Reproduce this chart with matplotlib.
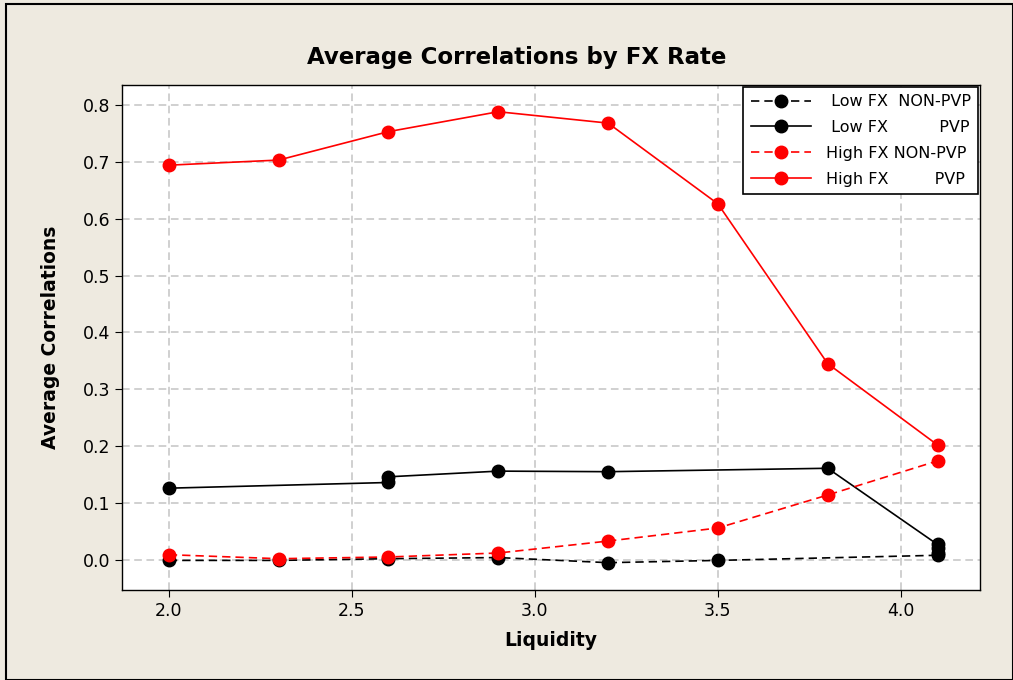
import numpy as np
import matplotlib
matplotlib.use("Agg")
import matplotlib.pyplot as plt
from matplotlib.patches import Rectangle
from matplotlib.ticker import FormatStrFormatter

low_nonpvp_x = [2.0, 2.3, 2.6, 2.9, 3.2, 3.5, 4.1, 4.1]
low_nonpvp_y = [-0.001, -0.001, 0.002, 0.004, -0.005, -0.001, 0.008, 0.012]

low_pvp_x = [2.0, 2.6, 2.6, 2.9, 3.2, 3.8, 4.1, 4.1]
low_pvp_y = [0.126, 0.136, 0.146, 0.156, 0.155, 0.161, 0.027, 0.020]

high_nonpvp_x = [2.0, 2.3, 2.6, 2.9, 3.2, 3.5, 3.8, 4.1]
high_nonpvp_y = [0.009, 0.002, 0.005, 0.012, 0.033, 0.056, 0.114, 0.174]

high_pvp_x = [2.0, 2.3, 2.6, 2.9, 3.2, 3.5, 3.8, 4.1]
high_pvp_y = [0.694, 0.703, 0.753, 0.788, 0.768, 0.626, 0.345, 0.202]

labels = [" Low FX  NON-PVP", " Low FX          PVP",
          "High FX NON-PVP", "High FX         PVP"]

bg = "#EEEAE0"
fig = plt.figure(figsize=(10.13, 6.8), dpi=100, facecolor=bg)
ax = fig.add_axes([0.1204, 0.1324, 0.847, 0.7426])
ax.set_facecolor("white")

fig.patches.append(Rectangle((0.006, 0.0), 0.994, 0.994, transform=fig.transFigure,
                             fill=False, edgecolor="black", linewidth=1.5))

ms = 9
ax.plot(low_nonpvp_x, low_nonpvp_y, color="black", linestyle=(0, (5, 3)), lw=1.2,
        marker="o", ms=ms, label=labels[0], zorder=3)
ax.plot(low_pvp_x, low_pvp_y, color="black", linestyle="-", lw=1.2,
        marker="o", ms=ms, label=labels[1], zorder=3)
ax.plot(high_nonpvp_x, high_nonpvp_y, color="#FF0000", linestyle=(0, (5, 3)), lw=1.2,
        marker="o", ms=ms, label=labels[2], zorder=4)
ax.plot(high_pvp_x, high_pvp_y, color="#FF0000", linestyle="-", lw=1.2,
        marker="o", ms=ms, label=labels[3], zorder=4)

ax.set_xlim(1.872, 4.216)
ax.set_ylim(-0.053, 0.835)
ax.set_xticks(np.arange(2.0, 4.01, 0.5))
ax.set_yticks(np.arange(0.0, 0.81, 0.1))
ax.xaxis.set_major_formatter(FormatStrFormatter("%.1f"))
ax.yaxis.set_major_formatter(FormatStrFormatter("%.1f"))
ax.tick_params(labelsize=12.5, length=5, direction="out")
ax.grid(True, color="#C4C4C4", linestyle=(0, (5, 3)), linewidth=1.1, zorder=0)
ax.set_axisbelow(True)
for s in ax.spines.values():
    s.set_linewidth(1.0)

ax.set_xlabel("Liquidity", fontsize=13.5, fontweight="bold", labelpad=8)
ax.set_ylabel("Average Correlations", fontsize=13.5, fontweight="bold", labelpad=16)
fig.text(0.51, 0.916, "Average Correlations by FX Rate", fontsize=16.5,
         fontweight="bold", ha="center", va="center")

leg = ax.legend(loc="upper right", bbox_to_anchor=(0.9975, 0.996), fontsize=11.5,
                frameon=True, fancybox=False, edgecolor="black", framealpha=1,
                handlelength=3.8, borderpad=0.45, labelspacing=0.68, handletextpad=0.9,
                borderaxespad=0.0)
leg.get_frame().set_linewidth(1.2)

fig.savefig("out.png", dpi=100, facecolor=bg)
